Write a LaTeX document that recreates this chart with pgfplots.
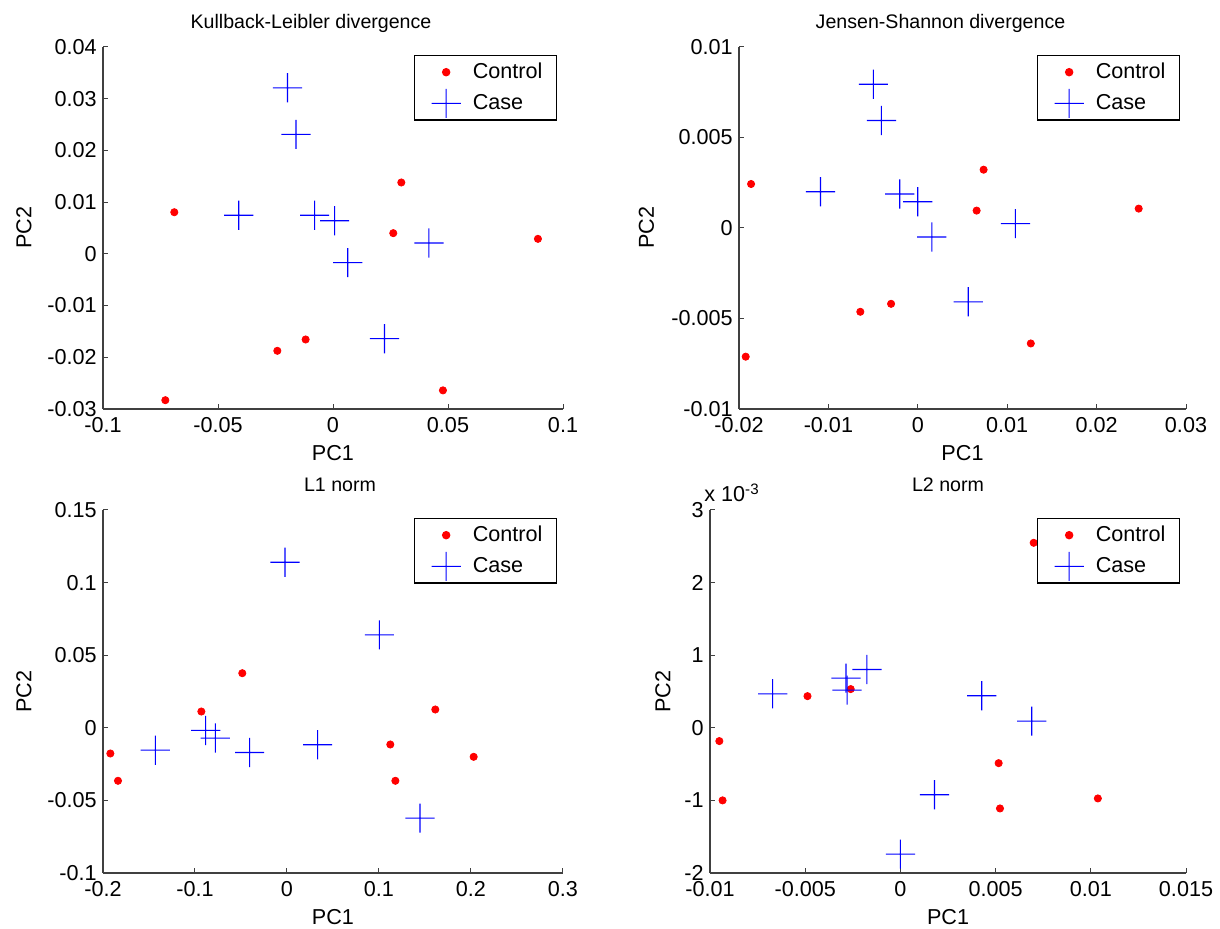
\documentclass[border=0pt]{standalone}
\usepackage{fontspec}
\setmainfont{Liberation Sans}
\usepackage{pgfplots}
\pgfplotsset{compat=1.18}
\definecolor{mred}{RGB}{255,0,0}
\definecolor{mblue}{RGB}{0,0,255}
\definecolor{axgray}{RGB}{64,64,64}
\newcommand\fs{\fontsize{10.8}{13}\selectfont}
\newcommand\ft{\fontsize{9.8}{12}\selectfont}
\pgfdeclareplotmark{mplus}{%
  \pgfpathrectangle{\pgfqpoint{-\pgfplotmarksize}{-0.28pt}}{\pgfqpoint{2\pgfplotmarksize}{0.56pt}}%
  \pgfpathrectangle{\pgfqpoint{-0.28pt}{-\pgfplotmarksize}}{\pgfqpoint{0.56pt}{2\pgfplotmarksize}}%
  \pgfusepathqfill}
\pgfplotsset{
 mstyle/.style={
  scale only axis, anchor=south west,
  axis x line*=bottom, axis y line*=left,
  x axis line style={-, draw=axgray, line width=0.6pt},
  y axis line style={-, draw=axgray, line width=0.6pt},
  tick align=inside, major tick length=2.5pt,
  tick style={draw=axgray, line width=0.5pt},
  enlargelimits=false,
  scaled ticks=false,
  /pgf/number format/assume math mode=true,
  /pgf/number format/fixed, /pgf/number format/precision=3,
  tick label style={font=\fs, inner sep=0pt},
  xticklabel style={yshift=-4pt},
  yticklabel style={xshift=-3pt},
  every axis title/.style={font=\ft, at={(axis description cs:0.5,1)}, anchor=base, yshift=9pt, inner sep=0pt},
  xlabel style={font=\fs, at={(axis description cs:0.5,0)}, anchor=base, yshift=-26pt, inner sep=0pt},
  ylabel style={font=\fs, anchor=center, inner sep=0pt},
  xlabel=PC1, ylabel=PC2,
  legend style={font=\fs, at={(1,1)}, anchor=north east, xshift=-3pt, yshift=-4pt,
    draw=black, line width=0.6pt, inner xsep=7pt, inner ysep=0.5pt,
    row sep=0pt, column sep=3pt, nodes={inner sep=0pt}},
  legend cell align=left,
 },
 ctrl/.style={only marks, mark=*, mark size=1.8pt, color=mred, draw=mred, fill=mred,
   mark options={draw=mred, fill=mred},
   legend image code/.code={\path (-8.5pt,-7.5pt) (10pt,7.5pt); \draw[##1] plot coordinates {(0pt,0pt)};}},
 cas/.style={only marks, mark=mplus, mark size=7.3pt, color=mblue, fill=mblue,
   mark options={fill=mblue, draw=none},
   legend image code/.code={\path (-8.5pt,-7.5pt) (10pt,7.5pt); \draw[##1] plot coordinates {(0pt,0pt)};}},
}
\begin{document}
\begin{tikzpicture}
\useasboundingbox (0,0) rectangle (610pt,464.5pt);
% Panel 1
\begin{axis}[mstyle, at={(51.5pt,260pt)}, width=230pt, height=181pt,
  xmin=-0.1, xmax=0.1, ymin=-0.03, ymax=0.04,
  xtick={-0.1,-0.05,0,0.05,0.1}, ytick={-0.03,-0.02,-0.01,0,0.01,0.02,0.03,0.04},
  ylabel style={at={(axis description cs:-0.1717,0.5)}},
  title style={xshift=-11pt},
  title={Kullback-Leibler divergence}]
\addplot[ctrl] coordinates {(-0.0690,0.00805) (0.0297,0.0138) (0.0262,0.0040) (0.0891,0.0029) (-0.0242,-0.01875) (-0.0119,-0.01656) (-0.0729,-0.0283) (0.0478,-0.0264)};
\addplot[cas] coordinates {(-0.0198,0.0321) (-0.0161,0.0231) (-0.0410,0.00747) (-0.0080,0.00747) (0.0007,0.0064) (0.0064,-0.0017) (0.0417,0.0021) (0.0224,-0.0164)};
\legend{Control,Case}
\end{axis}
% Panel 2
\begin{axis}[mstyle, at={(369.5pt,260pt)}, width=223.5pt, height=181pt,
  xmin=-0.02, xmax=0.03, ymin=-0.01, ymax=0.01,
  xtick={-0.02,-0.01,0,0.01,0.02,0.03}, ytick={-0.01,-0.005,0,0.005,0.01},
  ylabel style={at={(axis description cs:-0.207,0.5)}},
  title style={xshift=-11pt},
  title={Jensen-Shannon divergence}]
\addplot[ctrl] coordinates {(-0.01865,0.00243) (-0.01925,-0.00711) (-0.00643,-0.00463) (-0.00299,-0.00419) (0.00736,0.00322) (0.00658,0.00096) (0.01264,-0.00638) (0.02471,0.00107)};
\addplot[cas] coordinates {(-0.00497,0.00794) (-0.00407,0.00594) (-0.01088,0.00200) (-0.00202,0.00188) (0.0,0.00145) (0.00157,-0.00050) (0.01092,0.00024) (0.00564,-0.00408)};
\legend{Control,Case}
\end{axis}
% Panel 3
\begin{axis}[mstyle, at={(51.5pt,28pt)}, width=230pt, height=181.5pt,
  xmin=-0.2, xmax=0.3, ymin=-0.1, ymax=0.15,
  xtick={-0.2,-0.1,0,0.1,0.2,0.3}, ytick={-0.1,-0.05,0,0.05,0.1,0.15},
  ylabel style={at={(axis description cs:-0.1717,0.5)}},
  title style={xshift=3.5pt},
  title={L1 norm}]
\addplot[ctrl] coordinates {(-0.192,-0.0177) (-0.1837,-0.0365) (-0.0931,0.0112) (-0.0486,0.0376) (0.1123,-0.0115) (0.1178,-0.0365) (0.1612,0.0126) (0.2029,-0.0200)};
\addplot[cas] coordinates {(-0.0022,0.1140) (0.1004,0.0640) (-0.1431,-0.0154) (-0.0884,-0.0018) (-0.0779,-0.0071) (-0.0406,-0.0170) (0.0333,-0.0117) (0.1446,-0.0622)};
\legend{Control,Case}
\end{axis}
% Panel 4
\begin{axis}[mstyle, at={(355pt,28pt)}, width=238pt, height=181.5pt,
  xmin=-0.01, xmax=0.015, ymin=-0.002, ymax=0.003,
  xtick={-0.01,-0.005,0,0.005,0.01,0.015}, ytick={-0.002,-0.001,0,0.001,0.002,0.003},
  scaled y ticks=base 10:3,
  ytick scale label code/.code={x 10\textsuperscript{#1}},
  every y tick scale label/.style={at={(axis description cs:0,1)}, anchor=base west, yshift=4pt, inner sep=0pt, font=\fs},
  ylabel style={at={(axis description cs:-0.0987,0.5)}},
  title={L2 norm}]
\addplot[ctrl] coordinates {(0.00700,0.002548) (-0.00488,0.000436) (-0.00261,0.000533) (-0.00951,-0.000183) (-0.00934,-0.001000) (0.00516,-0.000487) (0.00523,-0.001111) (0.01037,-0.000973)};
\addplot[cas] coordinates {(-0.00671,0.000468) (-0.00286,0.000684) (-0.00280,0.000519) (-0.00176,0.000803) (0.00427,0.000441) (0.00690,0.000092) (0.00179,-0.000923) (0.0,-0.001740)};
\legend{Control,Case}
\end{axis}
\end{tikzpicture}
\end{document}
